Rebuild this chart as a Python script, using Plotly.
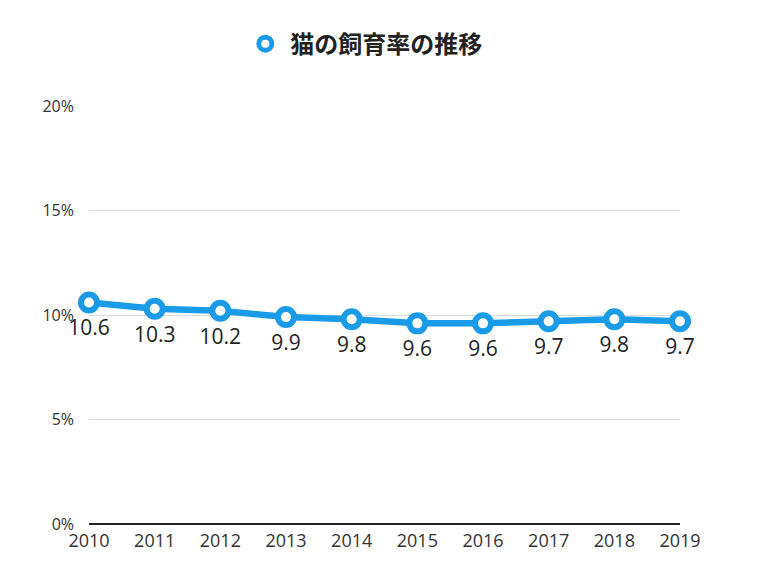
import plotly.graph_objects as go

years = [2010, 2011, 2012, 2013, 2014, 2015, 2016, 2017, 2018, 2019]
rates = [10.6, 10.3, 10.2, 9.9, 9.8, 9.6, 9.6, 9.7, 9.8, 9.7]
series_name = "猫の飼育率の推移"
y_ticks = [0, 5, 10, 15, 20]
y_tick_labels = ["0%", "5%", "10%", "15%", "20%"]

blue = "#1a9be8"
num_font = "Open Sans, Noto Sans CJK JP, sans-serif"
jp_font = "Noto Sans CJK JP, sans-serif"

fig = go.Figure()
fig.add_trace(go.Scatter(
    x=years, y=rates, mode="lines+markers",
    line=dict(color=blue, width=6.5),
    marker=dict(size=16, color="white", line=dict(color=blue, width=6)),
    showlegend=False, cliponaxis=False, hoverinfo="skip",
))
fig.add_trace(go.Scatter(
    x=years, y=rates, mode="markers+text",
    marker=dict(size=26, opacity=0),
    text=[f"{v:.1f}" for v in rates],
    textposition="bottom center",
    textfont=dict(size=21, color="#222222", family=num_font),
    showlegend=False, cliponaxis=False,
))
fig.add_trace(go.Scatter(
    x=[None], y=[None], mode="markers", name=series_name,
    marker=dict(size=13, color="white", line=dict(color=blue, width=5)),
))

fig.update_layout(
    width=760, height=564,
    margin=dict(l=81, r=88, t=98, b=48),
    paper_bgcolor="white", plot_bgcolor="white",
    font=dict(family=num_font, color="#333333", size=16),
    showlegend=True,
    legend=dict(orientation="h", x=0.465, xanchor="center", y=1.148, yanchor="middle",
                font=dict(size=24, color="#222222", family=jp_font, weight="bold"),
                itemwidth=40),
    xaxis=dict(range=[2010, 2019], tickvals=years, ticktext=[str(y) for y in years],
               showgrid=False, zeroline=False, showline=False, ticks="",
               ticklabelstandoff=4,
               tickfont=dict(size=18, color="#333333", family=num_font)),
    yaxis=dict(range=[0, 20], tickvals=y_ticks, ticktext=y_tick_labels,
               showgrid=True, gridcolor="#d9d9d9", gridwidth=1,
               zeroline=True, zerolinecolor="#222222", zerolinewidth=2,
               showline=False, ticks="", ticklabelstandoff=14,
               tickfont=dict(size=16, color="#333333", family=num_font)),
)

fig.write_html("out.html")
